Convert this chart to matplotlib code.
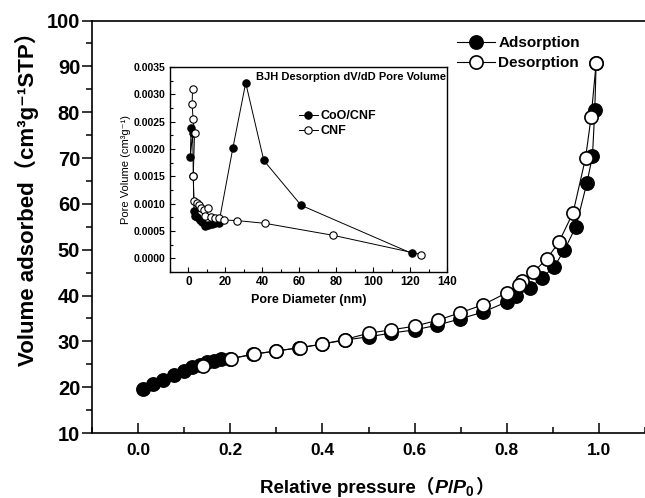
import matplotlib
matplotlib.use('Agg')
import matplotlib.pyplot as plt
from matplotlib.ticker import MultipleLocator, FormatStrFormatter

plt.rcParams['font.family'] = ['Liberation Sans', 'DejaVu Sans', 'Noto Sans CJK SC']
plt.rcParams['font.weight'] = 'bold'
plt.rcParams['axes.labelweight'] = 'bold'
plt.rcParams['mathtext.fontset'] = 'custom'
plt.rcParams['mathtext.rm'] = 'Liberation Sans:bold'
plt.rcParams['mathtext.bf'] = 'Liberation Sans:bold'
plt.rcParams['mathtext.it'] = 'Liberation Sans:italic:bold'

# main isotherm: relative pressure vs volume adsorbed
p_ads = [0.010, 0.032, 0.055, 0.079, 0.100, 0.118, 0.135, 0.150, 0.165, 0.180,
         0.200, 0.250, 0.300, 0.350, 0.400, 0.450, 0.501, 0.549, 0.600, 0.648,
         0.699, 0.749, 0.800, 0.820, 0.850, 0.877, 0.903, 0.925, 0.950, 0.974,
         0.986, 0.991, 0.994]
v_ads = [19.5, 20.6, 21.6, 22.6, 23.6, 24.3, 24.9, 25.4, 25.8, 26.1,
         26.2, 27.2, 27.9, 28.6, 29.4, 30.3, 31.0, 31.8, 32.5, 33.5,
         34.9, 36.4, 38.6, 39.8, 41.6, 43.9, 46.3, 49.9, 55.0, 64.6,
         70.4, 80.4, 90.7]
p_des = [0.994, 0.983, 0.971, 0.944, 0.913, 0.887, 0.858, 0.834, 0.826, 0.800,
         0.749, 0.698, 0.650, 0.600, 0.549, 0.501, 0.449, 0.400, 0.351, 0.300,
         0.251, 0.201, 0.141]
v_des = [90.7, 78.9, 70.0, 58.1, 51.6, 48.0, 45.1, 43.1, 42.4, 40.6,
         38.0, 36.2, 34.6, 33.3, 32.5, 31.8, 30.4, 29.4, 28.6, 27.9,
         27.2, 26.2, 24.6]

# inset: BJH pore size distribution
d_coo = [1.4, 1.0, 2.3, 2.6, 3.0, 3.6, 4.8, 6.0, 7.5, 9.0,
         10.5, 12.5, 14.5, 16.5, 24.0, 31.0, 40.8, 61.0, 121.0]
pv_coo = [0.00238, 0.00185, 0.00230, 0.00150, 0.00086, 0.00078, 0.00075, 0.00071, 0.00066, 0.00060,
          0.00061, 0.00062, 0.00064, 0.00065, 0.00201, 0.00321, 0.00179, 0.00097, 0.00009]
d_cnf = [2.2, 2.0, 2.5, 3.3, 2.6, 3.0, 4.5, 5.8, 7.0, 8.2,
         10.4, 9.0, 12.0, 14.5, 16.5, 19.5, 26.5, 41.5, 78.5, 126.0]
pv_cnf = [0.00310, 0.00282, 0.00254, 0.00230, 0.00150, 0.00104, 0.00102, 0.00098, 0.00092, 0.00088,
          0.00092, 0.00077, 0.00076, 0.00074, 0.00073, 0.00070, 0.00069, 0.00064, 0.00042, 0.00007]

W, H = 645, 498
fig = plt.figure(figsize=(W / 100, H / 100), dpi=100)
ax = fig.add_axes([92 / W, 1 - 433 / H, (W - 92) / W, (433 - 20.5) / H])

ax.plot(p_ads, v_ads, '-o', color='black', lw=0.8, ms=9.5, mfc='black', mec='black',
        mew=1.2, label='Adsorption', zorder=2)
ax.plot(p_des, v_des, '-o', color='black', lw=0.8, ms=9.5, mfc='white', mec='black',
        mew=1.2, label='Desorption', zorder=3)

ax.set_xlim(-0.1, 1.1)
ax.set_ylim(10, 100)
ax.xaxis.set_major_locator(MultipleLocator(0.2))
ax.xaxis.set_minor_locator(MultipleLocator(0.1))
ax.yaxis.set_major_locator(MultipleLocator(10))
ax.yaxis.set_minor_locator(MultipleLocator(5))
ax.xaxis.set_major_formatter(FormatStrFormatter('%.1f'))
ax.tick_params(axis='x', which='both', direction='in', width=1.1, pad=7, labelsize=12.5)
ax.tick_params(axis='x', which='major', length=7)
ax.tick_params(axis='x', which='minor', length=4)
ax.tick_params(axis='y', which='both', direction='out', width=1.1, pad=1.5, labelsize=14.5)
ax.tick_params(axis='y', which='major', length=7)
ax.tick_params(axis='y', which='minor', length=4)
for lab in ax.get_xticklabels() + ax.get_yticklabels():
    lab.set_fontweight('bold')
ax.spines['right'].set_visible(False)
for s in ['left', 'bottom', 'top']:
    ax.spines[s].set_linewidth(1.2)

ax.set_ylabel('Volume adsorbed（cm³g⁻¹STP）', fontsize=16, fontweight='bold')
ax.yaxis.set_label_coords((39 - 92) / (W - 92), (433 - 193) / (433 - 20.5))

ax.legend(loc='upper left', bbox_to_anchor=(457 / W, 1 - 36 / H),
          bbox_transform=fig.transFigure, frameon=False,
          prop={'size': 11, 'weight': 'bold'},
          handlelength=2.5, handletextpad=0.2, labelspacing=0.4,
          borderpad=0, borderaxespad=0)

# x label built in pieces so the P/P0 part can be italic
yb = 1 - 493 / H
renderer = fig.canvas.get_renderer()
t1 = fig.text(260 / W, yb, 'Relative pressure（', fontsize=13.5, fontweight='bold', va='baseline')
x1 = t1.get_window_extent(renderer).x1 / W
t2 = fig.text(x1, yb, r'$P/P_0$', fontsize=14, va='baseline')
x2 = t2.get_window_extent(renderer).x1 / W
fig.text(x2, yb, '）', fontsize=13.5, fontweight='bold', va='baseline')

# inset
ins = fig.add_axes([170 / W, 1 - 272 / H, (447 - 170) / W, (272 - 67) / H])
ins.plot(d_coo, pv_coo, '-o', color='black', lw=0.7, ms=5.3, mfc='black', mec='black',
         mew=0.8, label='CoO/CNF', zorder=2)
ins.plot(d_cnf, pv_cnf, '-o', color='black', lw=0.7, ms=5.3, mfc='white', mec='black',
         mew=0.8, label='CNF', zorder=3)
ins.set_xlim(-10, 140)
ins.set_ylim(-0.00025, 0.0035)
ins.xaxis.set_major_locator(MultipleLocator(20))
ins.xaxis.set_minor_locator(MultipleLocator(10))
ins.yaxis.set_major_locator(MultipleLocator(0.0005))
ins.yaxis.set_minor_locator(MultipleLocator(0.00025))
ins.yaxis.set_major_formatter(FormatStrFormatter('%.4f'))
ins.tick_params(which='both', direction='in', width=0.8, pad=3)
ins.tick_params(axis='x', labelsize=8.5)
ins.tick_params(axis='y', labelsize=7.5)
ins.tick_params(which='major', length=3.5)
ins.tick_params(which='minor', length=2)
for lab in ins.get_xticklabels() + ins.get_yticklabels():
    lab.set_fontweight('bold')
for s in ins.spines.values():
    s.set_linewidth(1.0)
ins.set_xlabel('Pore Diameter (nm)', fontsize=9, fontweight='bold', labelpad=4)
ins.set_ylabel('Pore Volume (cm³g⁻¹)', fontsize=8, fontweight='normal', labelpad=2)
ins.text(0.995, 0.975, 'BJH Desorption dV/dD Pore Volume', transform=ins.transAxes,
         ha='right', va='top', fontsize=8, fontweight='bold')
ins.legend(loc='upper left', bbox_to_anchor=(0.465, 0.79), frameon=False,
           prop={'size': 9, 'weight': 'bold'},
           handlelength=1.5, handletextpad=0.2, labelspacing=0.25,
           borderpad=0, borderaxespad=0)

fig.savefig('out.png', dpi=100)
